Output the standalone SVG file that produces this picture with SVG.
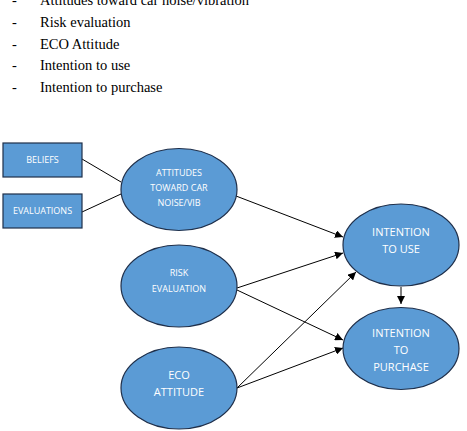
<svg xmlns="http://www.w3.org/2000/svg" width="467" height="431" viewBox="0 0 467 431">
<style>
.t{font-family:"Liberation Serif","Times New Roman",serif;font-size:14.5px;fill:#000}
.n{fill:#5B9BD5;stroke:#1F2F4A;stroke-width:1.2}
.lb{font-family:"Open Sans","Liberation Sans",sans-serif;fill:#fff;text-anchor:middle}
.s{font-size:9px}
.m{font-size:11px}
.c{stroke:#000;stroke-width:1;fill:none}
.a{marker-end:url(#ar)}
</style>
<defs>
<marker id="ar" viewBox="0 0 10 10" refX="10" refY="5" markerWidth="8" markerHeight="8" markerUnits="userSpaceOnUse" orient="auto">
<path d="M0,0L10,5L0,10z" fill="#000"/>
</marker>
</defs>
<rect width="467" height="431" fill="#fff"/>
<g id="list">
<text class="t" x="12" y="5">-</text><text class="t" x="40" y="5">Attitudes toward car noise/vibration</text>
<text class="t" x="12" y="27">-</text><text class="t" x="40" y="27">Risk evaluation</text>
<text class="t" x="12" y="48.5">-</text><text class="t" x="40" y="48.5">ECO Attitude</text>
<text class="t" x="12" y="70">-</text><text class="t" x="40" y="70">Intention to use</text>
<text class="t" x="12" y="92">-</text><text class="t" x="40" y="92">Intention to purchase</text>
</g>
<g id="connectors">
<line class="c" x1="82" y1="159" x2="121" y2="182"/>
<line class="c" x1="82" y1="212" x2="121" y2="194"/>
<line class="c a" x1="236" y1="196" x2="343" y2="237"/>
<line class="c a" x1="237" y1="288" x2="343" y2="253"/>
<line class="c a" x1="237" y1="290" x2="343" y2="340"/>
<line class="c a" x1="237" y1="388" x2="356" y2="272"/>
<line class="c a" x1="237" y1="388" x2="343" y2="348"/>
<line class="c a" x1="401" y1="287" x2="401" y2="304"/>
</g>
<g id="beliefs">
<rect class="n" x="3" y="143" width="79" height="34"/>
<text class="lb s" x="42.5" y="163">BELIEFS</text>
</g>
<g id="evaluations">
<rect class="n" x="3" y="194" width="79" height="34"/>
<text class="lb s" x="42.5" y="214">EVALUATIONS</text>
</g>
<g id="attitudes">
<ellipse class="n" cx="179" cy="189.5" rx="58" ry="41"/>
<text class="lb s" x="179" y="176">ATTITUDES</text>
<text class="lb s" x="179" y="191">TOWARD CAR</text>
<text class="lb s" x="179" y="206">NOISE/VIB</text>
</g>
<g id="risk">
<ellipse class="n" cx="179" cy="286" rx="58" ry="41"/>
<text class="lb s" x="179" y="276">RISK</text>
<text class="lb s" x="179" y="292">EVALUATION</text>
</g>
<g id="eco">
<ellipse class="n" cx="179" cy="388" rx="58" ry="41"/>
<text class="lb m" x="179" y="379">ECO</text>
<text class="lb m" x="179" y="396">ATTITUDE</text>
</g>
<g id="use">
<ellipse class="n" cx="401" cy="245" rx="58" ry="41"/>
<text class="lb m" x="401" y="236">INTENTION</text>
<text class="lb m" x="401" y="253">TO USE</text>
</g>
<g id="purchase">
<ellipse class="n" cx="401" cy="348.5" rx="58" ry="41"/>
<text class="lb m" x="401" y="337">INTENTION</text>
<text class="lb m" x="401" y="354">TO</text>
<text class="lb m" x="401" y="371">PURCHASE</text>
</g>
</svg>
